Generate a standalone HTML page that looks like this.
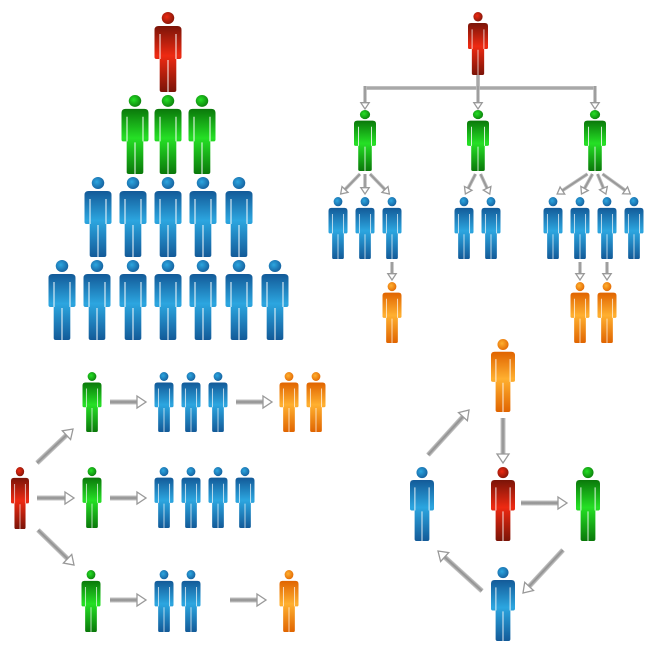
<!DOCTYPE html>
<html><head><meta charset="utf-8">
<style>html,body{margin:0;padding:0;background:#fff;width:650px;height:650px;overflow:hidden}</style>
</head><body>
<svg id="s" width="650" height="650" viewBox="0 0 650 650" xmlns="http://www.w3.org/2000/svg"></svg>
<script>
var C={r:['#7a1408','#ee2a12'],g:['#0a780a','#25e025'],b:['#135a98','#2ca6e0'],o:['#e06400','#ffb030']};
var d='<defs>';
for(var k in C){
 d+='<linearGradient id="g'+k+'" x1="0" y1="0" x2="0" y2="1"><stop offset="0" stop-color="'+C[k][0]+'"/><stop offset="0.45" stop-color="'+C[k][1]+'"/><stop offset="1" stop-color="'+C[k][0]+'"/></linearGradient>';
 d+='<radialGradient id="h'+k+'" cx="0.4" cy="0.4" r="0.7"><stop offset="0" stop-color="'+C[k][1]+'"/><stop offset="1" stop-color="'+C[k][0]+'"/></radialGradient>';
 d+='<symbol id="p'+k+'" viewBox="0 0 26 80" preserveAspectRatio="none">'+
 '<circle cx="13" cy="6" r="6" fill="url(#h'+k+')"/>'+
 '<path d="M0 18 Q0 14 4 14 L22 14 Q26 14 26 18 L26 45 Q26 47 24 47 L21 47 L21 78 Q21 80 19 80 L7 80 Q5 80 5 78 L5 47 L2 47 Q0 47 0 45 Z" fill="url(#g'+k+')"/>'+
 '<path d="M5.3 22 V47 M20.7 22 V47 M13 48 V80" stroke="#fff" stroke-width="1.1" opacity="0.85"/>'+
 '</symbol>';
}
d+='<linearGradient id="ag" x1="0" y1="0" x2="0" y2="1"><stop offset="0" stop-color="#c8c8c8"/><stop offset="0.5" stop-color="#8e8e8e"/><stop offset="1" stop-color="#c8c8c8"/></linearGradient>';
d+='</defs>';
var o=d;
function P(cx,top,w,h,c){o+='<use href="#p'+c+'" x="'+(cx-w/2)+'" y="'+top+'" width="'+w+'" height="'+h+'"/>';}
function A(x1,y1,x2,y2,t){t=t||5;var L=Math.hypot(x2-x1,y2-y1),a=Math.atan2(y2-y1,x2-x1)*180/Math.PI;var hl=t*1.8,hw=t*1.2;
 o+='<g transform="translate('+x1+','+y1+') rotate('+a+')"><rect x="0" y="'+(-t/2)+'" width="'+(L-hl+1)+'" height="'+t+'" fill="url(#ag)"/>'+
 '<polygon points="'+(L-hl)+','+(-hw)+' '+L+',0 '+(L-hl)+','+hw+'" fill="#fff" stroke="#999" stroke-width="1.3" stroke-linejoin="miter"/></g>';}
// pyramid
P(168,12,27,80,'r');
[135,168,202].forEach(function(x){P(x,95,27,79,'g')});
[98,133,168,203,239].forEach(function(x){P(x,177,27,80,'b')});
[62,97,133,168,203,239,275].forEach(function(x){P(x,260,27,80,'b')});
// tree
P(478,12,20,63,'r');
o+='<path d="M478 75 V88 M365 88 H595" stroke="#a8a8a8" stroke-width="3.5" fill="none"/>';
A(365,86,365,109,3.5);A(478,86,478,109,3.5);A(595,86,595,109,3.5);
[365,478,595].forEach(function(x){P(x,110,22,61,'g')});
[[365,[338,365,392]],[478,[464,491]],[595,[553,580,607,634]]].forEach(function(g){
 var n=g[1].length;g[1].forEach(function(x,i){var sx=g[0]+(i-(n-1)/2)*5;A(sx,174,x+(sx-x)*0.12,194,3.5);});
});
[338,365,392,464,491,553,580,607,634].forEach(function(x){P(x,197,19,62,'b')});
A(392,262,392,280,3.5);A(580,262,580,280,3.5);A(607,262,607,280,3.5);
[392,580,607].forEach(function(x){P(x,282,19,61,'o')});
// bottom-left
P(20,467,18,62,'r');
A(37,463,73,429);A(37,498,74,498);A(38,530,74,565);
P(92,372,19,60,'g');P(92,467,19,61,'g');P(91,570,19,62,'g');
A(110,402,146,402);A(110,498,146,498);A(110,600,146,600);
[164,191,218].forEach(function(x){P(x,372,19,60,'b')});
[164,191,218,245].forEach(function(x){P(x,467,19,61,'b')});
[164,191].forEach(function(x){P(x,570,19,62,'b')});
A(236,402,272,402);A(230,600,266,600);
[289,316].forEach(function(x){P(x,372,19,60,'o')});
P(289,570,19,62,'o');
// bottom-right
P(503,339,24,73,'o');
P(503,467,24,74,'r');
P(588,467,24,74,'g');
P(422,467,24,74,'b');
P(503,567,24,74,'b');
A(428,455,469,410,5);A(503,418,503,463,5);A(521,503,567,503,5);A(563,550,523,593,5);A(482,591,438,551,5);
document.getElementById('s').innerHTML=o;
</script>
</body></html>
